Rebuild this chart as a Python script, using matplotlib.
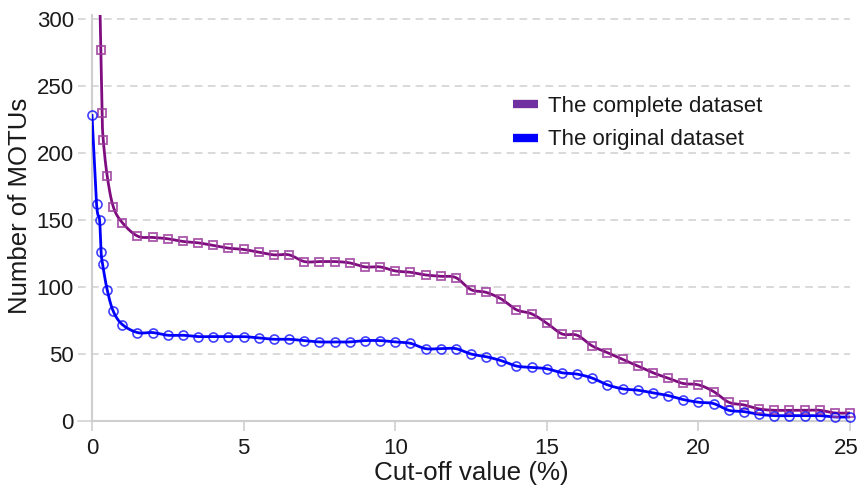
import numpy as np
import matplotlib
matplotlib.use("Agg")
import matplotlib.pyplot as plt
import matplotlib.transforms as mtransforms
from matplotlib.lines import Line2D

plt.rcParams['font.family'] = ['Liberation Sans', 'DejaVu Sans']

# cut-off values (%) and number of MOTUs
steps = [1.5, 2, 2.5, 3, 3.5, 4, 4.5, 5, 5.5, 6, 6.5, 7, 7.5, 8, 8.5, 9, 9.5,
         10, 10.5, 11, 11.5, 12, 12.5, 13, 13.5, 14, 14.5, 15, 15.5, 16, 16.5,
         17, 17.5, 18, 18.5, 19, 19.5, 20, 20.5, 21, 21.5, 22, 22.5, 23, 23.5,
         24, 24.5, 25]

complete_x = [0.2, 0.29, 0.33, 0.37, 0.5, 0.7, 1.0] + steps
complete_y = [380, 277, 230, 210, 183, 160, 148,
              138, 137, 136, 134, 133, 131, 129, 128, 126, 124, 124, 119, 119,
              119, 118, 115, 115, 112, 111, 109, 108, 107, 98, 96, 91, 83, 80,
              73, 65, 64, 56, 51, 46, 41, 36, 32, 28, 27, 22, 14, 12, 9, 8, 8,
              8, 8, 6, 6]

original_x = [0, 0.15, 0.25, 0.3, 0.35, 0.5, 0.7, 1.0] + steps
original_y = [228, 162, 150, 126, 117, 98, 82, 72,
              66, 66, 64, 64, 63, 63, 63, 63, 62, 61, 61, 60, 59, 59, 59, 60,
              60, 59, 58, 54, 54, 54, 50, 48, 45, 41, 40, 39, 36, 35, 32, 27,
              24, 23, 21, 19, 16, 14, 13, 8, 7, 5, 4, 4, 4, 4, 3, 3]

purple = '#800d80'
purple_mk = '#9a3a9a'
purple_leg = '#7030a0'
blue = '#0000ff'
grid_c = '#cfcfcf'
text_c = '#1a1a1a'


def smooth(x, y, n=16):
    # Catmull-Rom curve through the points (like a spreadsheet "smoothed line")
    p = np.column_stack([x, y]).astype(float)
    p = np.vstack([p[0], p, p[-1]])
    out = []
    t = np.linspace(0, 1, n, endpoint=False)[:, None]
    for i in range(1, len(p) - 2):
        p0, p1, p2, p3 = p[i - 1], p[i], p[i + 1], p[i + 2]
        seg = 0.5 * ((2 * p1) + (-p0 + p2) * t + (2 * p0 - 5 * p1 + 4 * p2 - p3) * t ** 2
                     + (-p0 + 3 * p1 - 3 * p2 + p3) * t ** 3)
        out.append(seg)
    out.append(p[-2][None, :])
    out = np.vstack(out)
    return out[:, 0], out[:, 1]


fig = plt.figure(figsize=(8.6, 4.97), dpi=100)
ax = fig.add_axes([92 / 860, 76 / 497, 758 / 860, 406 / 497])
ax.set_xlim(0, 25)
ax.set_ylim(0, 303)

# grid lines (extend a little left of the axis, acting as tick marks)
for v in [50, 100, 150, 200, 250, 300]:
    ax.plot([-0.018, 1.0], [v, v], transform=ax.get_yaxis_transform(),
            color=grid_c, lw=1.1, ls=(0, (5, 3.5)), clip_on=False, zorder=0)
ax.plot([-0.018, 0], [0, 0], transform=ax.get_yaxis_transform(),
        color=grid_c, lw=1.1, clip_on=False, zorder=0)

cx, cy = smooth(complete_x, complete_y)
ax.plot(cx, cy, color=purple, lw=2.0, zorder=3)
ox, oy = smooth(original_x, original_y)
ax.plot(ox, oy, color=blue, lw=2.0, zorder=4)

cmx = [a for a, b in zip(complete_x, complete_y) if b <= 300]
cmy = [b for b in complete_y if b <= 300]
ax.plot(cmx, cmy, ls='none', marker='s', ms=5.3, mfc='none', mec=purple_mk,
        mew=1.3, alpha=0.85, clip_on=False, zorder=5)
ax.plot(original_x, original_y, ls='none', marker='o', ms=6.5, mfc='none',
        mec=blue, mew=1.2, alpha=0.75, clip_on=False, zorder=6)

for s in ['top', 'right']:
    ax.spines[s].set_visible(False)
for s in ['left', 'bottom']:
    ax.spines[s].set_color(grid_c)
    ax.spines[s].set_linewidth(1.5)
ax.spines['left'].set_zorder(1)

ax.set_xticks([0, 5, 10, 15, 20, 25])
ax.set_yticks([0, 50, 100, 150, 200, 250, 300])
ax.tick_params(axis='x', length=7, width=1.2, color=grid_c, labelsize=16,
               labelcolor=text_c, pad=5)
ax.tick_params(axis='y', length=0, labelsize=16, labelcolor=text_c, pad=13)

# keep the last x label inside the picture
last = ax.get_xticklabels()[-1]
last.set_transform(last.get_transform() +
                   mtransforms.ScaledTranslation(-4 / 100, 0, fig.dpi_scale_trans))

ax.set_xlabel('Cut-off value (%)', fontsize=18.7, color=text_c, labelpad=2)
ax.set_ylabel('Number of MOTUs', fontsize=18.5, color=text_c)
ax.yaxis.set_label_coords(-0.079, 0.53)

handles = [Line2D([], [], color=purple_leg, lw=6, solid_capstyle='butt'),
           Line2D([], [], color=blue, lw=6, solid_capstyle='butt')]
ax.legend(handles, ['The complete dataset', 'The original dataset'],
          loc='upper left', bbox_to_anchor=(0.556, 0.80), frameon=False,
          fontsize=16, handlelength=1.1, handletextpad=0.45,
          labelspacing=0.55, borderpad=0, borderaxespad=0, labelcolor=text_c)

fig.savefig('out.png', dpi=100)
